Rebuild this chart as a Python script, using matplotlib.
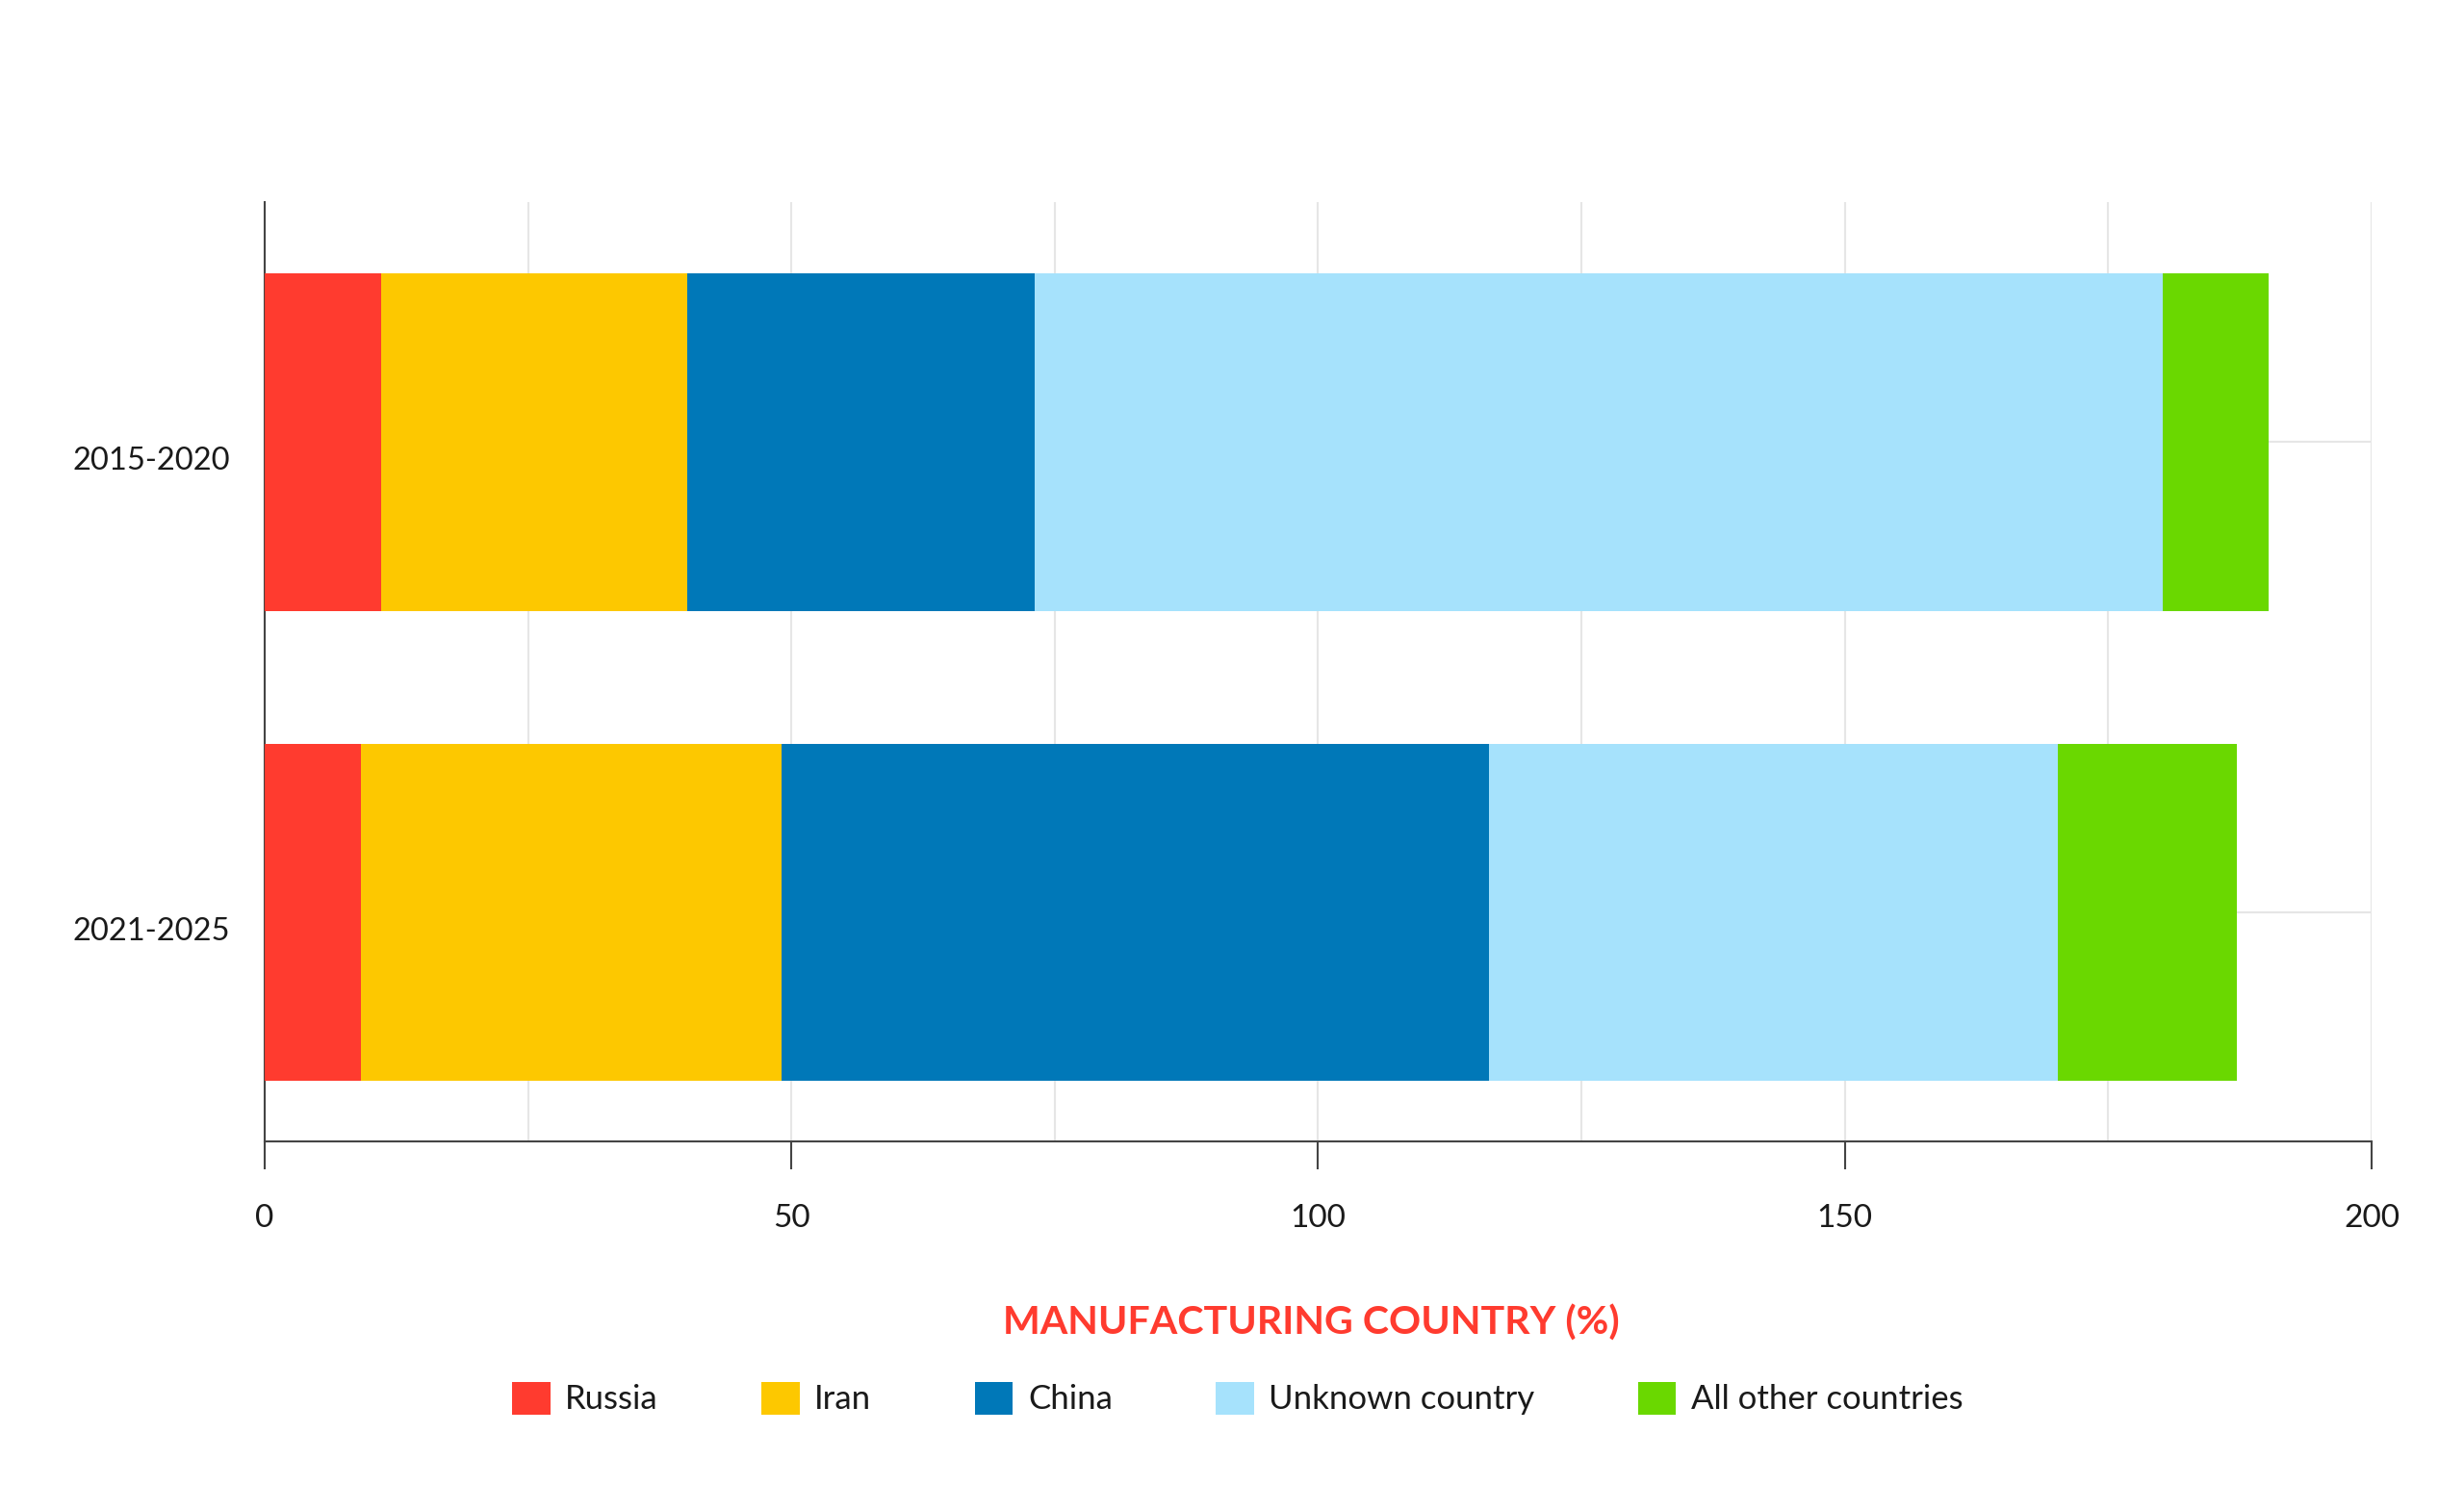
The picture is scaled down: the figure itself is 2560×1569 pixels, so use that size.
import matplotlib

matplotlib.use("Agg")
import matplotlib.pyplot as plt
from matplotlib.patches import Patch
from matplotlib.ticker import MultipleLocator
from matplotlib.transforms import ScaledTranslation

plt.rcParams["font.family"] = ["Lato", "DejaVu Sans"]

periods = ["2015-2020", "2021-2025"]
countries = ["Russia", "Iran", "China", "Unknown country", "All other countries"]
colors = ["#ff3b2f", "#fdc800", "#0078b8", "#a6e2fc", "#6ad800"]
# share of each manufacturing country per period, left to right
russia = [11.1, 9.1]
iran = [29.0, 40.0]
china = [33.0, 67.1]
unknown = [107.1, 54.0]
other = [10.0, 17.0]
series = [russia, iran, china, unknown, other]

fig = plt.figure(figsize=(25.6, 15.69), dpi=100)
ax = fig.add_axes([0.1074, 0.2441, 0.8551, 0.6221])

ypos = list(range(len(periods)))
left = [0.0] * len(periods)
for values, color, name in zip(series, colors, countries):
    ax.barh(ypos, values, left=left, height=0.718, color=color, linewidth=0, label=name, zorder=3)
    left = [a + b for a, b in zip(left, values)]

ax.set_xlim(0, 200)
ax.set_ylim(1.487, -0.51)
ax.set_yticks(ypos)
ax.set_yticklabels(periods)
ax.xaxis.set_major_locator(MultipleLocator(50))
ax.xaxis.set_minor_locator(MultipleLocator(25))
ax.grid(which="both", axis="x", color="#e6e6e6", linewidth=1.5, zorder=0)
ax.grid(which="major", axis="y", color="#e6e6e6", linewidth=1.5, zorder=0)
ax.tick_params(axis="x", which="major", length=21, width=1.5, color="#444444",
               pad=26, labelsize=24, labelcolor="#1a1a1a")
ax.tick_params(axis="x", which="minor", length=0)
ax.tick_params(axis="y", length=0, pad=26, labelsize=23.5, labelcolor="#1a1a1a")

# period labels sit a little below the bar centre in the original
shift = ScaledTranslation(0, -0.17, fig.dpi_scale_trans)
for lab in ax.get_yticklabels():
    lab.set_transform(lab.get_transform() + shift)

for side in ["top", "right"]:
    ax.spines[side].set_visible(False)
for side in ["left", "bottom"]:
    ax.spines[side].set_color("#444444")
    ax.spines[side].set_linewidth(1.5)

fig.text(0.532, 0.124, "MANUFACTURING COUNTRY (%)", color="#ff3b2f",
         fontsize=29.6, fontweight="bold", ha="center", va="center")

handles = [Patch(facecolor=c, edgecolor="none", label=n) for c, n in zip(colors, countries)]
fig.legend(handles=handles, loc="center", bbox_to_anchor=(0.5023, 0.074), ncol=5,
           frameon=False, handlelength=1.13, handleheight=1.13,
           handletextpad=0.45, columnspacing=3.1,
           prop={"size": 25}, labelcolor="#1a1a1a")

fig.savefig("out.png")
